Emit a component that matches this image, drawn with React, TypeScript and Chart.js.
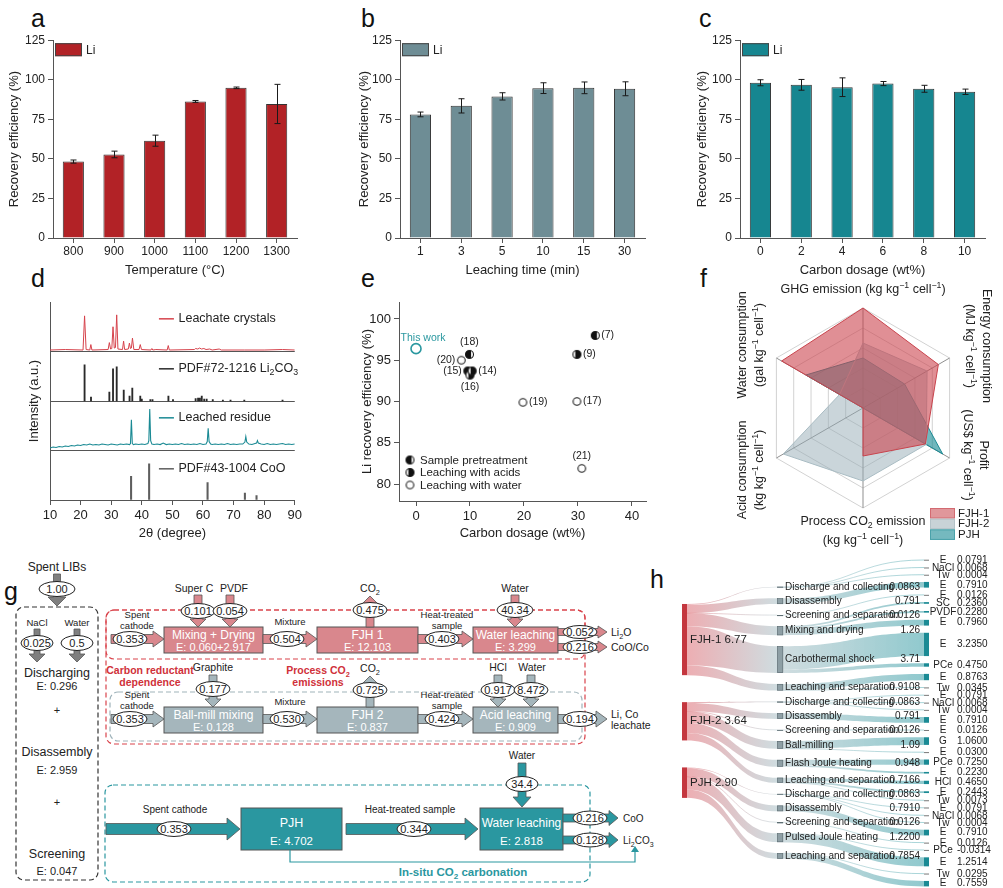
import React, { useEffect, useRef } from "react";
import { Chart, registerables } from "chart.js";
Chart.register(...registerables);

const FONT = "'Liberation Sans', Arial, Helvetica, sans-serif";
Chart.defaults.font.family = FONT;
Chart.defaults.color = "#222";

// ---------------- data: panels a, b, c ----------------
const temperatureLabels = ["800", "900", "1000", "1100", "1200", "1300"];
const temperatureRecovery = [48.3, 52.8, 61.5, 86.3, 94.9, 84.7];
const temperatureError = [1.0, 2.1, 3.5, 0.6, 0.5, 12.4];
const timeLabels = ["1", "3", "5", "10", "15", "30"];
const timeRecovery = [78.1, 83.5, 89.5, 94.7, 94.9, 94.3];
const timeError = [1.5, 4.5, 2.3, 3.4, 3.7, 4.4];
const dosageLabels = ["0", "2", "4", "6", "8", "10"];
const dosageRecovery = [98.1, 96.8, 95.3, 97.6, 94.3, 92.4];
const dosageError = [1.9, 3.4, 5.9, 1.3, 2.2, 1.7];

// ---------------- data: panel d (XRD) ----------------
const leachateCrystals = [
  [10, 0.03], [15, 0.04], [20.8, 0.03], [21.3, 0.72], [21.8, 0.04], [23.0, 0.03], [23.35, 0.14], [23.7, 0.03],
  [29.0, 0.04], [29.4, 0.18], [29.8, 0.05], [30.2, 0.06], [30.6, 0.5], [31.0, 0.07], [31.4, 0.08], [31.8, 0.74],
  [32.2, 0.05], [33.7, 0.04], [34.05, 0.21], [34.4, 0.04], [35.6, 0.05], [35.95, 0.17], [36.3, 0.06], [36.6, 0.07],
  [36.95, 0.27], [37.4, 0.04], [39.1, 0.04], [39.5, 0.14], [39.9, 0.04], [43.0, 0.03], [43.3, 0.06], [43.6, 0.03],
  [44.6, 0.04], [48.3, 0.03], [48.65, 0.12], [49.0, 0.03], [57.2, 0.04], [57.6, 0.06], [58.3, 0.05], [58.9, 0.07],
  [59.5, 0.05], [60.3, 0.06], [61.0, 0.04], [62.2, 0.05], [63.0, 0.03], [65.3, 0.05], [66.0, 0.03], [73.5, 0.03],
  [80, 0.03], [86.0, 0.04], [90, 0.03],
];
const li2co3Positions = [21.3, 23.4, 29.4, 30.6, 31.8, 34.1, 36.0, 36.9, 39.5, 40.0, 42.8, 43.5, 48.7, 50.2, 57.6, 58.4, 59.0, 59.6, 60.4, 61.2, 63.2, 66.5, 69.0, 73.5, 86.0];
const li2co3Heights = [0.73, 0.08, 0.18, 0.65, 0.69, 0.22, 0.1, 0.26, 0.1, 0.04, 0.03, 0.03, 0.1, 0.03, 0.05, 0.06, 0.06, 0.1, 0.04, 0.04, 0.03, 0.02, 0.02, 0.02, 0.02];
const leachedResidue = [
  [10, 0.05], [11, 0.07], [12, 0.06], [13, 0.08], [14, 0.07], [15, 0.09], [16, 0.08], [17, 0.1], [18, 0.09], [19, 0.11],
  [20, 0.1], [21, 0.12], [22, 0.11], [23, 0.13], [24, 0.11], [25, 0.12], [26, 0.11], [27, 0.13], [28, 0.12], [29, 0.11],
  [30, 0.13], [31, 0.12], [32, 0.11], [33, 0.13], [34, 0.12], [35, 0.13], [36, 0.12], [36.3, 0.14], [36.6, 0.62], [36.9, 0.14],
  [37.3, 0.12], [38, 0.13], [39, 0.12], [40, 0.13], [41, 0.12], [42, 0.14], [42.3, 0.2], [42.6, 0.84], [42.9, 0.2], [43.3, 0.13],
  [44, 0.12], [45, 0.13], [46, 0.12], [47, 0.15], [48, 0.12], [49, 0.13], [50, 0.12], [51, 0.13], [52, 0.12], [53, 0.14],
  [54, 0.12], [55, 0.13], [56, 0.12], [57, 0.13], [58, 0.12], [59, 0.14], [60, 0.12], [61, 0.13], [61.4, 0.18], [61.7, 0.45],
  [62.0, 0.18], [62.5, 0.13], [63, 0.12], [64, 0.13], [65, 0.12], [66, 0.13], [67, 0.12], [68, 0.14], [69, 0.12], [70, 0.13],
  [71, 0.12], [72, 0.13], [73, 0.13], [73.7, 0.17], [74.0, 0.28], [74.3, 0.17], [75, 0.13], [76, 0.12], [77, 0.14], [77.5, 0.15],
  [77.8, 0.2], [78.1, 0.15], [79, 0.13], [80, 0.12], [81, 0.14], [82, 0.12], [83, 0.13], [84, 0.12], [85, 0.13], [86, 0.14],
  [87, 0.12], [88, 0.13], [89, 0.12], [90, 0.13],
];
const cooPositions = [36.5, 42.4, 61.5, 73.7, 77.5];
const cooHeights = [0.48, 0.73, 0.35, 0.14, 0.09];
const xrdNames = ["Leachate crystals", "PDF#72-1216 Li_{2}CO_{3}", "Leached residue", "PDF#43-1004 CoO"];

// ---------------- data: panel e ----------------
const refLabels = ["(7)", "(9)", "(18)", "(20)", "(16)", "(15)", "(14)", "(19)", "(17)", "(21)"];
const refDosage = [33.2, 29.8, 9.9, 8.4, 10.0, 9.6, 10.4, 19.8, 29.8, 30.7];
const refRecovery = [98.0, 95.7, 95.7, 95.0, 93.2, 93.7, 93.7, 89.9, 90.0, 81.9];
const refMethod = ["pre", "acid", "pre", "water", "acid", "pre", "acid", "water", "water", "water"];
const thisWorkDosage = [0];
const thisWorkRecovery = [96.4];
const methodNames = ["Sample pretreatment", "Leaching with acids", "Leaching with water"];

// ---------------- data: panel f ----------------
const radarAxes = ["GHG emission", "Energy consumption", "Profit", "Process CO2 emission", "Acid consumption", "Water consumption"];
const fjh1Scores = [1.0, 0.87, 0.72, 0.48, 0.0, 0.94];
const fjh2Scores = [0.65, 0.74, 0.73, 0.73, 0.92, 0.27];
const pjhScores = [0.5, 0.48, 0.92, 0.0, 0.0, 0.66];
const routeNames = ["FJH-1", "FJH-2", "PJH"];

// ---------------- data: panel h (sankey) ----------------
const sankeyRoots = ["FJH-1", "FJH-2", "PJH"];
const sankeyRootValues = [6.77, 3.64, 2.9];
const stepNames = [
  "Discharge and collecting", "Disassembly", "Screening and separation", "Mixing and drying", "Carbothermal shock", "Leaching and separation",
  "Discharge and collecting", "Disassembly", "Screening and separation", "Ball-milling", "Flash Joule heating", "Leaching and separation",
  "Discharge and collecting", "Disassembly", "Screening and separation", "Pulsed Joule heating", "Leaching and separation",
];
const stepRoot = [0, 0, 0, 0, 0, 0, 1, 1, 1, 1, 1, 1, 2, 2, 2, 2, 2];
const stepValues = [0.0863, 0.791, 0.0126, 1.26, 3.71, 0.9108, 0.0863, 0.791, 0.0126, 1.09, 0.948, 0.7166, 0.0863, 0.791, 0.0126, 1.22, 0.7854];
const stepValueText = ["0.0863", "0.791", "0.0126", "1.26", "3.71", "0.9108", "0.0863", "0.791", "0.0126", "1.09", "0.948", "0.7166", "0.0863", "0.7910", "0.0126", "1.2200", "0.7854"];
const flowNames = [
  "E", "NaCl", "Tw", "E", "E", "SC", "PVDF", "E", "E", "PCe", "E", "Tw",
  "E", "NaCl", "Tw", "E", "E", "G", "E", "PCe", "E", "HCl", "E", "Tw",
  "E", "NaCl", "Tw", "E", "E", "PCe", "E", "Tw", "E",
];
const flowValues = [
  0.0791, 0.0068, 0.0004, 0.791, 0.0126, 0.236, 0.228, 0.796, 3.235, 0.475, 0.8763, 0.0345,
  0.0791, 0.0068, 0.0004, 0.791, 0.0126, 1.06, 0.03, 0.725, 0.223, 0.465, 0.2443, 0.0073,
  0.0791, 0.0068, 0.0004, 0.791, 0.0126, -0.0314, 1.2514, 0.0295, 0.7559,
];
const flowStep = [0, 0, 0, 1, 2, 3, 3, 3, 4, 4, 5, 5, 6, 6, 6, 7, 8, 9, 9, 10, 10, 11, 11, 11, 12, 12, 12, 13, 14, 15, 15, 16, 16];

// ---------------- helpers ----------------
function parseRich(text: string) {
  const parts: any[] = [];
  const re = /(_|\^)\{([^}]*)\}/g;
  let last = 0;
  let m: any;
  while ((m = re.exec(text)) !== null) {
    if (m.index > last) parts.push({ t: text.slice(last, m.index), k: 0 });
    parts.push({ t: m[2], k: m[1] === "_" ? 1 : 2 });
    last = re.lastIndex;
  }
  if (last < text.length) parts.push({ t: text.slice(last), k: 0 });
  return parts;
}

function drawRich(ctx: any, text: string, x: number, y: number, size: number, align = "left", color = "#222", weight = "") {
  const parts = parseRich(text);
  const fnt = (k: number) => `${weight} ${k ? size * 0.7 : size}px ${FONT}`;
  let w = 0;
  parts.forEach((p) => {
    ctx.font = fnt(p.k);
    p.w = ctx.measureText(p.t).width;
    w += p.w;
  });
  let cx = align === "center" ? x - w / 2 : align === "right" ? x - w : x;
  ctx.textBaseline = "middle";
  ctx.textAlign = "left";
  ctx.fillStyle = color;
  parts.forEach((p) => {
    ctx.font = fnt(p.k);
    const dy = p.k === 1 ? size * 0.3 : p.k === 2 ? -size * 0.35 : 0;
    ctx.fillText(p.t, cx, y + dy);
    cx += p.w;
  });
}

function svgRich(text: string, size: number) {
  let cur = 0;
  return parseRich(text).map((p, i) => {
    const target = p.k === 1 ? size * 0.28 : p.k === 2 ? -size * 0.38 : 0;
    const dy = target - cur;
    cur = target;
    return (
      <tspan key={i} dy={dy} fontSize={p.k ? size * 0.7 : undefined}>
        {p.t}
      </tspan>
    );
  });
}

function ChartCanvas({ left, top, width, height, build }: any) {
  const ref = useRef<HTMLCanvasElement>(null);
  useEffect(() => {
    const chart = new Chart(ref.current as any, build());
    return () => chart.destroy();
  }, []);
  return <canvas ref={ref} width={width} height={height} style={{ position: "absolute", left, top, width, height }} />;
}

const axisGrid = { display: true, drawOnChartArea: false, drawTicks: true, tickLength: 5, color: "#555", lineWidth: 1, offset: false };
const axisBorder = { display: true, color: "#555", width: 1 };

// ---------------- panels a-c ----------------
function makeBarConfig(labels: string[], values: number[], errors: number[], color: string, xTitle: string, titlePad: number) {
  const decor = {
    id: "errbars",
    afterDatasetsDraw(chart: any) {
      const { ctx } = chart;
      const y = chart.scales.y;
      const meta = chart.getDatasetMeta(0);
      ctx.save();
      ctx.strokeStyle = "#1a1a1a";
      ctx.lineWidth = 1;
      meta.data.forEach((bar: any, i: number) => {
        const x = Math.round(bar.x) + 0.5;
        const yt = y.getPixelForValue(values[i] + errors[i]);
        const yb = y.getPixelForValue(values[i] - errors[i]);
        ctx.beginPath();
        ctx.moveTo(x, yt);
        ctx.lineTo(x, yb);
        ctx.moveTo(x - 3, yt);
        ctx.lineTo(x + 3, yt);
        ctx.moveTo(x - 3, yb);
        ctx.lineTo(x + 3, yb);
        ctx.stroke();
      });
      const a = chart.chartArea;
      ctx.fillStyle = color;
      ctx.fillRect(a.left + 2, a.top + 3, 27, 13);
      ctx.strokeStyle = "#444";
      ctx.strokeRect(a.left + 2.5, a.top + 3.5, 26, 12);
      ctx.fillStyle = "#222";
      ctx.font = `12px ${FONT}`;
      ctx.textBaseline = "middle";
      ctx.textAlign = "left";
      ctx.fillText("Li", a.left + 33, a.top + 10);
      ctx.restore();
    },
  };
  return {
    type: "bar",
    data: {
      labels,
      datasets: [
        { label: "Li", data: values, backgroundColor: color, borderColor: "#333", borderWidth: 1, barPercentage: 0.52, categoryPercentage: 1 },
      ],
    },
    options: {
      responsive: false,
      animation: false,
      devicePixelRatio: 1,
      layout: { padding: { left: 0, right: 8, top: 10, bottom: 0 } },
      plugins: { legend: { display: false }, tooltip: { enabled: false } },
      scales: {
        x: {
          grid: axisGrid,
          border: axisBorder,
          ticks: { font: { size: 12 }, color: "#222", padding: 1 },
          title: { display: true, text: xTitle, font: { size: 13 }, color: "#222", padding: { top: 0, bottom: 2 } },
          afterFit: (s: any) => {
            s.height = 42;
          },
        },
        y: {
          min: 0,
          max: 125,
          grid: axisGrid,
          border: axisBorder,
          ticks: { stepSize: 25, font: { size: 12 }, color: "#222", padding: 3 },
          title: { display: true, text: "Recovery efficiency (%)", font: { size: 13 }, color: "#222", padding: { top: titlePad, bottom: 0 } },
          afterFit: (s: any) => {
            s.width = 53;
          },
        },
      },
    },
    plugins: [decor],
  };
}

// ---------------- panel d ----------------
function makeXrdConfig() {
  const colors = ["#d6434c", "#2a2a2a", "#1a8a94", "#5e5e5e"];
  const legendLevels = [3.66, 2.65, 1.66, 0.63];
  const decor = {
    id: "xrdLegend",
    afterDraw(chart: any) {
      const { ctx } = chart;
      const x = chart.scales.x;
      const y = chart.scales.y;
      ctx.save();
      xrdNames.forEach((name, i) => {
        const yy = y.getPixelForValue(legendLevels[i]);
        ctx.strokeStyle = colors[i];
        ctx.lineWidth = 1.5;
        ctx.beginPath();
        ctx.moveTo(x.getPixelForValue(45.6), yy);
        ctx.lineTo(x.getPixelForValue(50.5), yy);
        ctx.stroke();
        drawRich(ctx, name, x.getPixelForValue(52), yy, 12.5, "left");
      });
      ctx.restore();
    },
  };
  return {
    type: "line",
    data: {
      datasets: [
        { type: "line", label: xrdNames[0], data: leachateCrystals.map(([a, b]) => ({ x: a, y: b + 3 })), borderColor: colors[0], borderWidth: 1, pointRadius: 0, tension: 0 },
        { type: "bar", label: xrdNames[1], data: li2co3Positions.map((p, i) => ({ x: p, y: [2, 2 + li2co3Heights[i]] })), backgroundColor: colors[1], barThickness: 1.2, grouped: false },
        { type: "line", label: xrdNames[2], data: leachedResidue.map(([a, b]) => ({ x: a, y: b + 1 })), borderColor: colors[2], borderWidth: 1.1, pointRadius: 0, tension: 0 },
        { type: "bar", label: xrdNames[3], data: cooPositions.map((p, i) => ({ x: p, y: [0, cooHeights[i]] })), backgroundColor: colors[3], barThickness: 1.4, grouped: false },
      ],
    },
    options: {
      responsive: false,
      animation: false,
      devicePixelRatio: 1,
      layout: { padding: { left: 0, right: 8, top: 12, bottom: 0 } },
      plugins: { legend: { display: false }, tooltip: { enabled: false } },
      scales: {
        x: {
          type: "linear",
          min: 10,
          max: 90,
          offset: false,
          grid: axisGrid,
          border: axisBorder,
          ticks: { stepSize: 10, font: { size: 13 }, color: "#222", padding: 3 },
          title: { display: true, text: "2θ (degree)", font: { size: 13 }, color: "#222", padding: { top: 0, bottom: 4 } },
          afterFit: (s: any) => {
            s.height = 45;
          },
        },
        y: {
          min: 0,
          max: 4,
          border: axisBorder,
          ticks: { display: false, stepSize: 1 },
          grid: {
            drawTicks: false,
            lineWidth: 1,
            color: (c: any) => (c.tick && c.tick.value > 0 && c.tick.value < 4 ? "#555" : "rgba(0,0,0,0)"),
          },
          title: { display: true, text: "Intensity (a.u.)", font: { size: 13 }, color: "#222", padding: { top: 27, bottom: 0 } },
          afterFit: (s: any) => {
            s.width = 50;
          },
        },
      },
    },
    plugins: [decor],
  };
}

// ---------------- panel e ----------------
function makeMarker(kind: string, r = 4) {
  const c = document.createElement("canvas");
  const s = Math.ceil(2 * r + 3);
  c.width = s;
  c.height = s;
  const g = c.getContext("2d") as any;
  const cx = s / 2;
  const cy = s / 2;
  g.beginPath();
  g.arc(cx, cy, r, 0, Math.PI * 2);
  g.fillStyle = "#fff";
  g.fill();
  g.save();
  g.beginPath();
  g.arc(cx, cy, r, 0, Math.PI * 2);
  g.clip();
  g.fillStyle = "#111";
  if (kind === "pre") g.fillRect(cx - r - 1, cy - r - 1, r * 1.4 + 1, 2 * r + 2);
  if (kind === "acid") g.fillRect(cx - r * 0.4, cy - r - 1, r * 1.4 + 1, 2 * r + 2);
  g.restore();
  g.beginPath();
  g.arc(cx, cy, r, 0, Math.PI * 2);
  g.strokeStyle = "#1a1a1a";
  g.lineWidth = 1.1;
  g.stroke();
  return c;
}

function makeScatterConfig() {
  const markers: any = { pre: makeMarker("pre"), acid: makeMarker("acid"), water: makeMarker("water", 3.8) };
  const placement = ["r", "r", "t", "l", "b", "l", "r", "r", "r", "t"];
  const decor = {
    id: "scatterDecor",
    afterDatasetsDraw(chart: any) {
      const { ctx } = chart;
      const x = chart.scales.x;
      const y = chart.scales.y;
      ctx.save();
      ctx.font = `10.5px ${FONT}`;
      ctx.fillStyle = "#222";
      ctx.textBaseline = "middle";
      refLabels.forEach((lab, i) => {
        const px = x.getPixelForValue(refDosage[i]);
        const py = y.getPixelForValue(refRecovery[i]);
        const p = placement[i];
        if (p === "r") {
          ctx.textAlign = "left";
          ctx.fillText(lab, px + 6, py);
        } else if (p === "l") {
          ctx.textAlign = "right";
          ctx.fillText(lab, px - 6, py);
        } else if (p === "t") {
          ctx.textAlign = "center";
          ctx.fillText(lab, px, py - 12);
        } else {
          ctx.textAlign = "center";
          ctx.fillText(lab, px, py + 12);
        }
      });
      ctx.fillStyle = "#2a98a0";
      ctx.textAlign = "center";
      ctx.fillText("This work", x.getPixelForValue(thisWorkDosage[0]) + 7, y.getPixelForValue(thisWorkRecovery[0]) - 11);
      const a = chart.chartArea;
      const icons = [markers.pre, markers.acid, markers.water];
      methodNames.forEach((n, i) => {
        const cy = a.bottom - 41 + i * 12.5;
        const cx = a.left + 11;
        const ic = icons[i];
        ctx.drawImage(ic, cx - ic.width / 2, cy - ic.height / 2);
        ctx.font = `11.5px ${FONT}`;
        ctx.textAlign = "left";
        ctx.fillStyle = "#222";
        ctx.fillText(n, cx + 10, cy + 0.5);
      });
      ctx.restore();
    },
  };
  const pick = (kind: string) => refDosage.map((d, i) => ({ x: d, y: refRecovery[i], k: refMethod[i] })).filter((p) => p.k === kind);
  return {
    type: "scatter",
    data: {
      datasets: [
        { label: "water", data: pick("water"), pointStyle: markers.water },
        { label: "acid", data: pick("acid"), pointStyle: markers.acid },
        { label: "pre", data: pick("pre"), pointStyle: markers.pre },
        {
          label: "This work",
          data: thisWorkDosage.map((d, i) => ({ x: d, y: thisWorkRecovery[i] })),
          pointStyle: "circle",
          pointRadius: 5,
          borderColor: "#2a98a0",
          borderWidth: 1.6,
          backgroundColor: "#fff",
        },
      ],
    },
    options: {
      responsive: false,
      animation: false,
      devicePixelRatio: 1,
      layout: { padding: { left: 0, right: 8, top: 12, bottom: 0 } },
      plugins: { legend: { display: false }, tooltip: { enabled: false } },
      scales: {
        x: {
          type: "linear",
          min: -3.15,
          max: 42.6,
          grid: axisGrid,
          border: axisBorder,
          ticks: { stepSize: 10, includeBounds: false, font: { size: 13 }, color: "#222", padding: 3 },
          title: { display: true, text: "Carbon dosage (wt%)", font: { size: 13 }, color: "#222", padding: { top: 0, bottom: 4 } },
          afterFit: (s: any) => {
            s.height = 44;
          },
        },
        y: {
          min: 77.95,
          max: 102.05,
          grid: axisGrid,
          border: axisBorder,
          ticks: { stepSize: 5, includeBounds: false, font: { size: 13 }, color: "#222", padding: 3 },
          title: { display: true, text: "Li recovery efficiency (%)", font: { size: 13 }, color: "#222", padding: { top: 15, bottom: 0 } },
          afterFit: (s: any) => {
            s.width = 54;
          },
        },
      },
    },
    plugins: [decor],
  };
}

// ---------------- panel f ----------------
function makeRadarConfig() {
  const legendFill = ["#e0979b", "#c9d3d7", "#75b9bf"];
  const legendEdge = ["#d36a71", "#b5c3c8", "#4aa2aa"];
  const decor = {
    id: "radarLabels",
    afterDraw(chart: any) {
      const { ctx } = chart;
      const r = chart.scales.r;
      const cx = r.xCenter;
      const cy = r.yCenter;
      ctx.save();
      const sz = 12.5;
      drawRich(ctx, "GHG emission (kg kg^{−1} cell^{−1})", cx, cy - 118, sz, "center");
      const rot = (lines: string[], xs: number[], dy: number, ang: number) => {
        lines.forEach((ln, i) => {
          ctx.save();
          ctx.translate(cx + xs[i], cy + dy);
          ctx.rotate(ang);
          drawRich(ctx, ln, 0, 0, sz, "center");
          ctx.restore();
        });
      };
      rot(["Energy consumption", "(MJ kg^{−1} cell^{−1})"], [123, 106], -62, Math.PI / 2);
      rot(["Profit", "(US$ kg^{−1} cell^{−1})"], [120, 104], 47, Math.PI / 2);
      rot(["Water consumption", "(gal kg^{−1} cell^{−1})"], [-120, -103], -63, -Math.PI / 2);
      rot(["Acid consumption", "(kg kg^{−1} cell^{−1})"], [-120, -103], 62, -Math.PI / 2);
      drawRich(ctx, "Process CO_{2} emission", cx, cy + 114, sz, "center");
      drawRich(ctx, "(kg kg^{−1} cell^{−1})", cx, cy + 133, sz, "center");
      routeNames.forEach((n, i) => {
        const bx = 230;
        const by = 238 + i * 10.7;
        ctx.fillStyle = legendFill[i];
        ctx.fillRect(bx, by, 25, 10.5);
        ctx.strokeStyle = legendEdge[i];
        ctx.lineWidth = 1;
        ctx.strokeRect(bx + 0.5, by + 0.5, 24, 9.5);
        drawRich(ctx, n, bx + 28, by + 5.5, 11.5, "left");
      });
      ctx.restore();
    },
  };
  return {
    type: "radar",
    data: {
      labels: radarAxes,
      datasets: [
        { label: routeNames[0], data: fjh1Scores, borderColor: "#c8434c", backgroundColor: "rgba(204,68,78,0.6)", borderWidth: 1, pointRadius: 0, fill: true },
        { label: routeNames[1], data: fjh2Scores, borderColor: "#a9bcc3", backgroundColor: "rgba(150,172,182,0.5)", borderWidth: 1, pointRadius: 0, fill: true },
        { label: routeNames[2], data: pjhScores, borderColor: "#1a8a94", backgroundColor: "rgba(26,138,148,0.62)", borderWidth: 1, pointRadius: 0, fill: true },
      ],
    },
    options: {
      responsive: false,
      animation: false,
      devicePixelRatio: 1,
      layout: { padding: { left: 63, top: 38, right: 40, bottom: 47 } },
      plugins: { legend: { display: false }, tooltip: { enabled: false } },
      elements: { line: { tension: 0 } },
      scales: {
        r: {
          min: 0,
          max: 1,
          ticks: { display: false, stepSize: 0.2 },
          pointLabels: { display: false },
          grid: { color: "#d2d2d2", lineWidth: 1 },
          angleLines: { color: "#8f8f8f", lineWidth: 1 },
        },
      },
    },
    plugins: [decor],
  };
}

// ---------------- panel h ----------------
function makeSankeyConfig() {
  const COL = [0, 0.393, 1];
  const KL = 1.46;
  const LEFT_START = 7.22;
  const LEFT_GAP = 3.75;
  const MID_START = 4.82;
  const MID_GAP = 1.53;
  const RIGHT_START = 1.07;
  const RIGHT_GAP = 1.0;
  const decor = {
    id: "sankey",
    afterDraw(chart: any) {
      const { ctx } = chart;
      const xs = chart.scales.x;
      const ys = chart.scales.y;
      const X = (v: number) => xs.getPixelForValue(v);
      const Y = (v: number) => ys.getPixelForValue(v);
      let u = LEFT_START;
      const leftTop = sankeyRootValues.map((v) => {
        const t = u;
        u += v * KL + LEFT_GAP;
        return t;
      });
      u = MID_START;
      const midTop = stepValues.map((v) => {
        const t = u;
        u += v + MID_GAP;
        return t;
      });
      u = RIGHT_START;
      const leafTop = flowValues.map((v) => {
        const t = u;
        u += Math.abs(v) + RIGHT_GAP;
        return t;
      });
      const band = (xa: number, ya0: number, ya1: number, xb: number, yb0: number, yb1: number, c0: string, c1: string) => {
        const g = ctx.createLinearGradient(xa, 0, xb, 0);
        g.addColorStop(0, c0);
        g.addColorStop(1, c1);
        const xm = (xa + xb) / 2;
        if (ya1 - ya0 < 0.9) {
          const ym0 = (ya0 + ya1) / 2;
          const ym1 = (yb0 + yb1) / 2;
          ctx.beginPath();
          ctx.moveTo(xa, ym0);
          ctx.bezierCurveTo(xm, ym0, xm, ym1, xb, ym1);
          ctx.strokeStyle = g;
          ctx.lineWidth = 0.8;
          ctx.stroke();
          return;
        }
        ctx.beginPath();
        ctx.moveTo(xa, ya0);
        ctx.bezierCurveTo(xm, ya0, xm, yb0, xb, yb0);
        ctx.lineTo(xb, yb1);
        ctx.bezierCurveTo(xm, yb1, xm, ya1, xa, ya1);
        ctx.closePath();
        ctx.fillStyle = g;
        ctx.fill();
      };
      ctx.save();
      const xL = X(COL[0]);
      const xM = X(COL[1]);
      const xR = X(COL[2]);
      const srcOff = sankeyRootValues.map(() => 0);
      stepValues.forEach((v, i) => {
        const r = stepRoot[i];
        const s0 = leftTop[r] + srcOff[r];
        srcOff[r] += v * KL;
        band(xL + 5, Y(s0), Y(s0 + v * KL), xM, Y(midTop[i]), Y(midTop[i] + v), "rgba(222,108,116,0.55)", "rgba(168,192,198,0.55)");
      });
      const midOff = stepValues.map(() => 0);
      flowValues.forEach((v, i) => {
        const m = flowStep[i];
        const a = Math.abs(v);
        const s0 = midTop[m] + midOff[m];
        midOff[m] += a;
        band(xM + 6, Y(s0), Y(s0 + a), xR, Y(leafTop[i]), Y(leafTop[i] + a), "rgba(168,192,198,0.55)", "rgba(70,165,173,0.6)");
      });
      sankeyRootValues.forEach((v, i) => {
        const y0 = Y(leftTop[i]);
        const y1 = Y(leftTop[i] + v * KL);
        ctx.fillStyle = "#c4373f";
        ctx.fillRect(xL, y0, 5, y1 - y0);
        drawRich(ctx, `${sankeyRoots[i]} ${v.toFixed(2)}`, xL + 8, (y0 + y1) / 2, 11.5, "left");
      });
      stepValues.forEach((v, i) => {
        const y0 = Y(midTop[i]);
        const y1 = Y(midTop[i] + v);
        const h = Math.max(1, y1 - y0);
        ctx.fillStyle = "#8e9fa5";
        ctx.fillRect(xM, y0, 6, h);
        ctx.strokeStyle = "#5d6d72";
        ctx.lineWidth = 0.6;
        ctx.strokeRect(xM + 0.3, y0 + 0.3, 5.4, h - 0.6 > 0 ? h - 0.6 : 0.4);
        const cy = y0 + h / 2;
        drawRich(ctx, stepNames[i], xM + 8, cy, 10, "left");
        drawRich(ctx, stepValueText[i], xR - 4, cy, 10, "right");
      });
      flowValues.forEach((v, i) => {
        const y0 = Y(leafTop[i]);
        const y1 = Y(leafTop[i] + Math.abs(v));
        const h = Math.max(1, y1 - y0);
        ctx.fillStyle = h > 1.5 ? "#1a8a94" : "#777";
        ctx.fillRect(xR, y0, 5, h);
        const cy = y0 + h / 2;
        drawRich(ctx, flowNames[i], xR + 19, cy, 10, "center");
        drawRich(ctx, v.toFixed(4), xR + 33, cy, 10, "left");
      });
      ctx.restore();
    },
  };
  return {
    type: "scatter",
    data: { datasets: [] },
    options: {
      responsive: false,
      animation: false,
      devicePixelRatio: 1,
      layout: { padding: 0 },
      plugins: { legend: { display: false }, tooltip: { enabled: false } },
      scales: {
        x: { type: "linear", display: false, min: -0.0083, max: 1.3264 },
        y: { type: "linear", display: false, min: 0, max: 336 / 7.2, reverse: true },
      },
    },
    plugins: [decor],
  };
}

// ---------------- panel g (flow diagram) ----------------
const EDGE = "#555";
function hArrow(x1: number, x2: number, y: number, fill: string, shaft = 9, head = 16, hl = 11) {
  const s = shaft / 2;
  const h = head / 2;
  const pts = [[x1, y - s], [x2 - hl, y - s], [x2 - hl, y - h], [x2, y], [x2 - hl, y + h], [x2 - hl, y + s], [x1, y + s]];
  return <polygon points={pts.map((p) => p.join(",")).join(" ")} fill={fill} stroke={EDGE} strokeWidth={0.8} />;
}
function vArrow(x: number, y1: number, y2: number, fill: string, shaft = 8, head = 16, hl = 8) {
  const dir = Math.sign(y2 - y1);
  const s = shaft / 2;
  const h = head / 2;
  const yb = y2 - dir * hl;
  const pts = [[x - s, y1], [x + s, y1], [x + s, yb], [x + h, yb], [x, y2], [x - h, yb], [x - s, yb]];
  return <polygon points={pts.map((p) => p.join(",")).join(" ")} fill={fill} stroke={EDGE} strokeWidth={0.8} />;
}
function oval(x: number, y: number, t: string, rx = 17, ry = 7.5, size = 11) {
  return (
    <g>
      <ellipse cx={x} cy={y} rx={rx} ry={ry} fill="#fff" stroke="#222" strokeWidth={1} />
      <text x={x} y={y + size * 0.36} fontSize={size} textAnchor="middle" fill="#222">
        {t}
      </text>
    </g>
  );
}
function T(x: number, y: number, s: string, size = 9.5, anchor = "middle", fill = "#222", weight = "normal") {
  return (
    <text x={x} y={y} fontSize={size} textAnchor={anchor} fill={fill} fontWeight={weight}>
      {svgRich(s, size)}
    </text>
  );
}
function box(x: number, y: number, w: number, h: number, fill: string, name: string, energy: string, n1: number, n2: number, s1 = 12, s2 = 11) {
  return (
    <g>
      <rect x={x} y={y} width={w} height={h} fill={fill} stroke={EDGE} strokeWidth={1} />
      {T(x + w / 2, n1, name, s1, "middle", "#fff")}
      {T(x + w / 2, n2, energy, s2, "middle", "#fff")}
    </g>
  );
}

function PanelG() {
  const RED = "#d9878d";
  const GRAY = "#a5b6bc";
  const TEAL = "#2a97a0";
  const LGRAY = "#7f7f7f";
  const REDT = "#d0313a";
  return (
    <g fontFamily={FONT}>
      <rect x={16} y={607} width={82} height={273} rx={8} fill="none" stroke="#333" strokeWidth={1.2} strokeDasharray="5 3" />
      <rect x={106} y={610} width={479} height={134} rx={8} fill="none" stroke="#d9434b" strokeWidth={1.2} strokeDasharray="5 3" />
      <rect x={106} y={610} width={479} height={49} rx={8} fill="none" stroke="#d9434b" strokeWidth={1.2} strokeDasharray="5 3" />
      <rect x={110} y={692} width={472} height={49} rx={8} fill="none" stroke="#9fb3ba" strokeWidth={1.2} strokeDasharray="5 3" />
      <rect x={105} y={785} width={485} height={97} rx={8} fill="none" stroke={TEAL} strokeWidth={1.2} strokeDasharray="5 3" />

      {T(57, 571, "Spent LIBs", 12)}
      {vArrow(57, 574, 606, LGRAY, 7, 18, 9)}
      {oval(57, 589, "1.00", 18)}
      {T(37, 626, "NaCl")}
      {T(77, 626, "Water")}
      {vArrow(37, 629, 662, LGRAY, 6, 16, 8)}
      {oval(37, 643, "0.025", 16)}
      {vArrow(77, 629, 662, LGRAY, 6, 16, 8)}
      {oval(77, 643, "0.5", 16)}
      {T(57, 677, "Discharging", 12.5)}
      {T(57, 690, "E: 0.296", 11)}
      {T(57, 714, "+", 11)}
      {T(57, 756, "Disassembly", 12.5)}
      {T(57, 774, "E: 2.959", 11)}
      {T(57, 806, "+", 11)}
      {T(57, 858, "Screening", 12.5)}
      {T(57, 875, "E: 0.047", 11)}

      {T(137, 618, "Spent")}
      {T(137, 629, "cathode")}
      {hArrow(111, 164, 639, RED)}
      {oval(130, 639, "0.353")}
      {box(164, 627, 99, 26, RED, "Mixing + Drying", "E: 0.060+2.917", 639, 651)}
      {T(194, 592, "Super C", 10.5)}
      {T(234, 592, "PVDF", 10.5)}
      {vArrow(198, 595, 627, RED)}
      {vArrow(230, 595, 627, RED)}
      {oval(198, 611, "0.101")}
      {oval(230, 611, "0.054")}
      {T(290, 625, "Mixture")}
      {hArrow(263, 317, 639, RED)}
      {oval(287, 639, "0.504")}
      {box(317, 627, 101, 26, RED, "FJH 1", "E: 12.103", 639, 651)}
      {vArrow(370, 627, 596, RED)}
      {oval(370, 610, "0.475")}
      {T(370, 592, "CO_{2}", 10.5)}
      {T(447, 618, "Heat-treated")}
      {T(447, 629, "sample")}
      {hArrow(418, 473, 639, RED)}
      {oval(442, 639, "0.403")}
      {box(473, 627, 85, 26, RED, "Water leaching", "E: 3.299", 639, 651)}
      {T(515, 592, "Water", 10.5)}
      {vArrow(515, 595, 627, RED)}
      {oval(515, 610, "40.34", 18)}
      {hArrow(558, 607, 632, RED, 7, 12, 9)}
      {hArrow(558, 607, 647, RED, 7, 12, 9)}
      {oval(580, 632, "0.052", 17, 6.5)}
      {oval(580, 647, "0.216", 17, 6.5)}
      {T(611, 636, "Li_{2}O", 10.5, "start")}
      {T(611, 651, "CoO/Co", 10.5, "start")}

      {T(150, 674, "Carbon reductant", 10.5, "middle", REDT, "bold")}
      {T(150, 686, "dependence", 10.5, "middle", REDT, "bold")}
      {T(318, 674, "Process CO_{2}", 10.5, "middle", REDT, "bold")}
      {T(318, 686, "emissions", 10.5, "middle", REDT, "bold")}

      {T(213, 671, "Graphite", 10.5)}
      {vArrow(213, 675, 707, GRAY)}
      {oval(213, 689, "0.177")}
      {T(137, 698, "Spent")}
      {T(137, 709, "cathode")}
      {hArrow(111, 164, 719, GRAY)}
      {oval(130, 719, "0.353")}
      {box(164, 707, 99, 26, GRAY, "Ball-mill mixing", "E: 0.128", 719, 731)}
      {T(290, 705, "Mixture")}
      {hArrow(263, 317, 719, GRAY)}
      {oval(287, 719, "0.530")}
      {box(317, 707, 101, 26, GRAY, "FJH 2", "E: 0.837", 719, 731)}
      {vArrow(370, 707, 676, GRAY)}
      {oval(370, 690, "0.725")}
      {T(370, 672, "CO_{2}", 10.5)}
      {T(447, 698, "Heat-treated")}
      {T(447, 709, "sample")}
      {hArrow(418, 473, 719, GRAY)}
      {oval(442, 719, "0.424")}
      {box(473, 707, 85, 26, GRAY, "Acid leaching", "E: 0.909", 719, 731)}
      {T(498, 671, "HCl", 10.5)}
      {T(532, 671, "Water", 10.5)}
      {vArrow(498, 675, 707, GRAY)}
      {vArrow(531, 675, 707, GRAY)}
      {oval(498, 690, "0.917")}
      {oval(531, 690, "8.472")}
      {hArrow(558, 607, 719, GRAY)}
      {oval(580, 719, "0.194")}
      {T(611, 718, "Li, Co", 10.5, "start")}
      {T(611, 729, "leachate", 10.5, "start")}

      {T(175, 813, "Spent cathode", 10)}
      {hArrow(106, 240, 829, TEAL, 11, 22, 13)}
      {oval(174, 829, "0.353")}
      {box(241, 808, 101, 42, TEAL, "PJH", "E: 4.702", 827, 845, 12.5, 11.5)}
      {T(410, 813, "Heat-treated sample", 10)}
      {hArrow(346, 478, 829, TEAL, 11, 22, 13)}
      {oval(414, 829, "0.344")}
      {box(480, 808, 83, 42, TEAL, "Water leaching", "E: 2.818", 827, 845, 12, 11.5)}
      {T(522, 759, "Water", 10)}
      {vArrow(522, 763, 807, TEAL, 8, 18, 10)}
      {oval(522, 784, "34.4", 16)}
      {hArrow(563, 618, 818, TEAL, 8, 15, 9)}
      {hArrow(563, 618, 840, TEAL, 8, 15, 9)}
      {oval(590, 818, "0.216", 17, 7)}
      {oval(590, 840, "0.128", 17, 7)}
      {T(623, 822, "CoO", 10, "start")}
      {T(623, 844, "Li_{2}CO_{3}", 10, "start")}
      <path d="M290,850 V862 H635 V850" stroke={TEAL} fill="none" strokeWidth={1.2} />
      <polygon points="631,852 635,846 639,852" fill={TEAL} />
      {T(463, 876, "In-situ CO_{2} carbonation", 11.5, "middle", TEAL, "bold")}
    </g>
  );
}

function PanelLetters() {
  const L = (x: number, y: number, t: string) => (
    <text x={x} y={y} fontSize={25} fontFamily={FONT} fill="#111">
      {t}
    </text>
  );
  return (
    <g>
      {L(31, 27, "a")}
      {L(361, 27, "b")}
      {L(699, 27, "c")}
      {L(31, 287, "d")}
      {L(361, 287, "e")}
      {L(700, 287, "f")}
      {L(4, 600, "g")}
      {L(650, 588, "h")}
    </g>
  );
}

export default function App() {
  return (
    <div style={{ position: "absolute", left: 0, top: 0, width: 1003, height: 888, background: "#fff", overflow: "hidden", fontFamily: FONT }}>
      <svg width={1003} height={888} style={{ position: "absolute", left: 0, top: 0 }}>
        <PanelLetters />
        <PanelG />
      </svg>
      <ChartCanvas left={0} top={30} width={305} height={250} build={() => makeBarConfig(temperatureLabels, temperatureRecovery, temperatureError, "#b22226", "Temperature (°C)", 7)} />
      <ChartCanvas left={347} top={30} width={306} height={250} build={() => makeBarConfig(timeLabels, timeRecovery, timeError, "#6e8d95", "Leaching time (min)", 10)} />
      <ChartCanvas left={687} top={30} width={306} height={250} build={() => makeBarConfig(dosageLabels, dosageRecovery, dosageError, "#168690", "Carbon dosage (wt%)", 8)} />
      <ChartCanvas left={0} top={290} width={305} height={255} build={makeXrdConfig} />
      <ChartCanvas left={345} top={290} width={309} height={255} build={makeScatterConfig} />
      <ChartCanvas left={700} top={270} width={303} height={285} build={makeRadarConfig} />
      <ChartCanvas left={680} top={552} width={323} height={336} build={makeSankeyConfig} />
    </div>
  );
}
